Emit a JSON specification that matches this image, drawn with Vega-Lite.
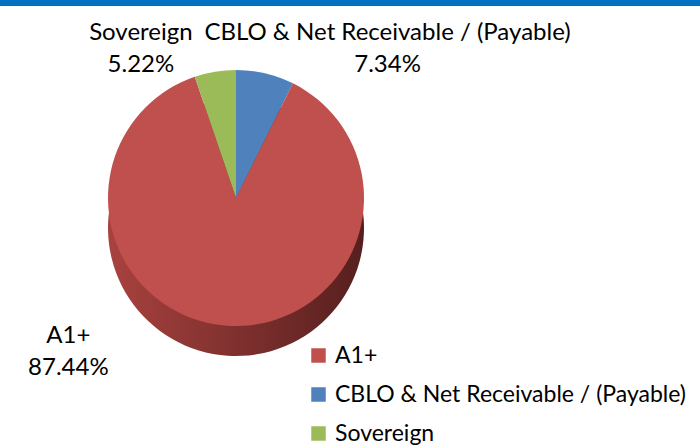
{
  "$schema": "https://vega.github.io/schema/vega-lite/v6.json",
  "padding": 0,
  "spacing": 0,
  "background": "white",
  "config": {"view": {"stroke": null}, "font": "Lato", "text": {"font": "Lato"}},
  "datasets": {
    "slices": [
      {"category": "CBLO & Net Receivable / (Payable)", "pct": 7.34, "ord": 1, "label": "CBLO & Net Receivable / (Payable)\n7.34%"},
      {"category": "A1+", "pct": 87.44, "ord": 2, "label": "A1+\n87.44%"},
      {"category": "Sovereign", "pct": 5.22, "ord": 3, "label": "Sovereign\n5.22%"}
    ]
  },
  "vconcat": [
    {
      "width": 700,
      "height": 6,
      "view": {"fill": "#0070C0", "stroke": null},
      "data": {"values": []},
      "mark": "text",
      "encoding": {}
    },
    {
      "width": 472,
      "height": 378,
      "data": {"name": "slices"},
      "encoding": {
        "theta": {"field": "pct", "type": "quantitative", "stack": true},
        "order": {"field": "ord", "type": "quantitative"}
      },
      "layer": [
        {
          "mark": {
            "type": "arc",
            "outerRadius": 128,
            "yOffset": 30,
            "fill": {
              "gradient": "linear", "x1": 0, "y1": 0, "x2": 1, "y2": 0,
              "stops": [{"offset": 0, "color": "#A8423F"}, {"offset": 1, "color": "#561F1E"}]
            }
          }
        },
        {
          "mark": {"type": "arc", "outerRadius": 128},
          "encoding": {
            "color": {
              "field": "category",
              "type": "nominal",
              "scale": {
                "domain": ["A1+", "CBLO & Net Receivable / (Payable)", "Sovereign"],
                "range": ["#C0504D", "#4F81BD", "#9BBB59"]
              },
              "legend": {
                "title": null,
                "orient": "none",
                "legendX": 307,
                "legendY": 344,
                "symbolType": "square",
                "symbolSize": 210,
                "symbolStrokeWidth": 0,
                "labelFontSize": 23,
                "labelFont": "Lato",
                "labelColor": "#000000",
                "labelOffset": 5,
                "labelLimit": 600,
                "rowPadding": 15
              }
            }
          }
        },
        {
          "mark": {"type": "text", "radius": 160, "dx": 115, "dy": -9, "fontSize": 24, "lineHeight": 32, "lineBreak": "\n", "color": "#000000"},
          "encoding": {"text": {"condition": {"test": "datum.ord == 1", "field": "label"}, "value": ""}}
        },
        {
          "mark": {"type": "text", "radius": 160, "dx": -157, "dy": -22, "fontSize": 24, "lineHeight": 32, "lineBreak": "\n", "color": "#000000"},
          "encoding": {"text": {"condition": {"test": "datum.ord == 2", "field": "label"}, "value": ""}}
        },
        {
          "mark": {"type": "text", "radius": 160, "dx": -69, "dy": -7, "fontSize": 24, "lineHeight": 32, "lineBreak": "\n", "color": "#000000"},
          "encoding": {"text": {"condition": {"test": "datum.ord == 3", "field": "label"}, "value": ""}}
        }
      ]
    }
  ]
}
